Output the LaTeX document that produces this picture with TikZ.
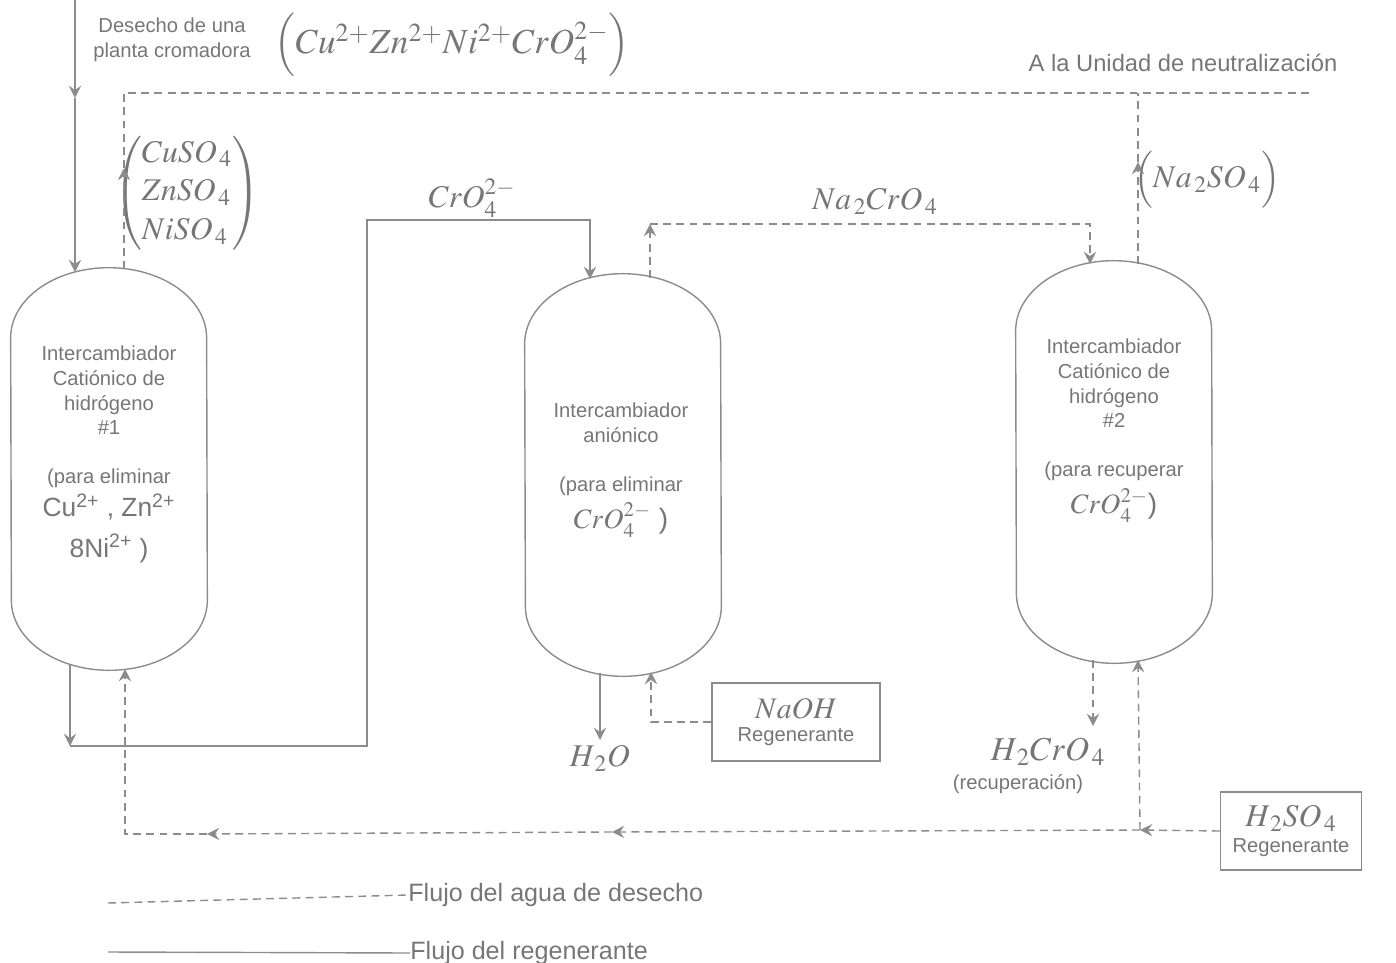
\documentclass[tikz,border=0pt]{standalone}
\usepackage{mathptmx}
\usepackage{fontspec}
\setmainfont{Liberation Sans}
\usetikzlibrary{arrows.meta,positioning,calc}
\definecolor{pipe}{HTML}{8C8C8C}
\definecolor{ink}{HTML}{767676}

\begin{document}
\begin{tikzpicture}[x=0.02cm, y=0.02cm,
      vessel/.style={minimum width=3.92cm, minimum height=5.24cm, inner sep=0pt},
      vtext/.style={font=\fontsize{11.5}{14}\selectfont, text=ink, align=center, anchor=north, inner sep=0pt},
      chem/.style={font=\fontsize{18}{22}\selectfont, text=ink, inner sep=0pt},
      small/.style={font=\fontsize{11.5}{14}\selectfont, text=ink, inner sep=0pt},
      regbox/.style={draw=pipe, line width=0.8pt, align=center, text=ink, minimum height=1.56cm, inner sep=2pt},
      solidflow/.style={draw=pipe, line width=0.8pt},
      wasteflow/.style={draw=pipe, line width=0.8pt, dash pattern=on 4.5pt off 3pt},
      tip/.style={-{Stealth[length=7pt,width=7pt,inset=2.5pt]}}
    ]
      \useasboundingbox (0,0) rectangle (1396,-963);

      % columnas de intercambio
      \node[vessel] (v1) at (109,-469) {};
      \node[vessel] (v2) at (623,-475) {};
      \node[vessel] (v3) at (1114,-462) {};
      \foreach \v in {v1,v2,v3}
        \draw[solidflow] (\v.north west)
          arc[start angle=180, end angle=0, x radius=1.96cm, y radius=1.4cm]
          -- (\v.south east)
          arc[start angle=0, end angle=-180, x radius=1.96cm, y radius=1.4cm] -- cycle;

      \node[vtext] (t1) at (109,-346) {Intercambiador\\Catiónico de\\hidrógeno\\\#1\\[14pt]
        (para eliminar\\[2pt]
        {\fontsize{15}{18}\selectfont Cu\textsuperscript{2+} , Zn\textsuperscript{2+}}\\[7pt]
        {\fontsize{15}{18}\selectfont 8Ni\textsuperscript{2+} )}};
      \node[vtext] (t2) at (621,-403) {Intercambiador\\aniónico\\[14pt]
        (para eliminar\\[3pt]
        {\fontsize{16}{18}\selectfont $CrO_4^{2-}$ )}};
      \node[vtext] (t3) at (1114,-339) {Intercambiador\\Catiónico de\\hidrógeno\\\#2\\[14pt]
        (para recuperar\\[3pt]
        {\fontsize{16}{18}\selectfont $CrO_4^{2-}$)}};

      % textos
      \node[small, align=center] (feed) at (172,-40) {Desecho de una\\planta cromadora};
      \node[chem, font=\fontsize{20}{24}\selectfont] (ions) at (452,-45)
        {$\left(Cu^{2+}Zn^{2+}Ni^{2+}CrO_4^{2-}\vphantom{\rule[-9pt]{0pt}{23pt}}\right)$};
      \node[chem] (sulf) at (187,-193)
        {$\left(\begin{array}{@{}l@{}}CuSO_{\,4}\\ ZnSO_{\,4}\\ NiSO_{\,4}\end{array}\right)$};
      \node[chem] (cro) at (472,-198) {$CrO_4^{2-}$};
      \node[chem] (nacro) at (875,-201) {$Na_{\,2}CrO_{\,4}$};
      \node[chem] (naso) at (1207,-180)
        {$\left(Na_{\,2}SO_{\,4}\vphantom{\rule[-10pt]{0pt}{26pt}}\right)$};
      \node[small, font=\fontsize{13.5}{16}\selectfont] (neutral) at (1183,-63) {A la Unidad de neutralización};
      \node[chem] (water) at (600,-758) {$H_{\,2}O$};
      \node[chem, font=\fontsize{19}{22}\selectfont] (h2cro) at (1048,-752) {$H_{\,2}CrO_{\,4}$};
      \node[small] (recup) at (1018,-784) {(recuperación)};

      \node[regbox, minimum width=3.36cm] (naoh) at (796,-722)
        {{\fontsize{17}{20}\selectfont $NaOH$}\\[1pt]{\fontsize{11.5}{14}\selectfont Regenerante}};
      \node[regbox, minimum width=2.82cm] (acid) at (1291,-831)
        {{\fontsize{18}{20}\selectfont $H_{\,2}SO_{\,4}$}\\[3pt]{\fontsize{11.5}{14}\selectfont Regenerante}};

      % puntos de conexion
      \coordinate (top1) at (75,0);
      \coordinate (a1) at (75,-98);
      \coordinate (v1in) at (75,-272);
      \coordinate (v1up) at (124,-269);
      \coordinate (a2) at (124,-168);
      \coordinate (n1) at (124,-93);
      \coordinate (n2) at (1313,-93);
      \coordinate (v3up) at (1138,-264);
      \coordinate (a3) at (1138,-162);
      \coordinate (n3) at (1138,-93);
      \coordinate (v1out) at (70,-664);
      \coordinate (b1) at (70,-746);
      \coordinate (b2) at (367,-220);
      \coordinate (v2in) at (590,-279);
      \coordinate (v2out) at (600,-673);
      \coordinate (w1) at (600,-740);
      \coordinate (v2up) at (650,-278);
      \coordinate (c2) at (650,-224);
      \coordinate (v3in) at (1090,-264);
      \coordinate (v2back) at (651,-672);
      \coordinate (v3out) at (1093,-660);
      \coordinate (r1) at (1093,-726);
      \coordinate (v3back) at (1138,-660);
      \coordinate (j1) at (1140,-830);
      \coordinate (m1) at (612,-832);
      \coordinate (m2) at (207,-834);
      \coordinate (v1back) at (125,-669);

      % flujo del regenerante (continuo)
      \draw[solidflow, tip] (top1) -- (a1);
      \draw[solidflow, tip] (a1) -- (v1in);
      \draw[solidflow, tip] (v1out) -- (b1);
      \draw[solidflow, tip] (b1) -| (b2) -| (v2in);
      \draw[solidflow, tip] (v2out) -- (w1);

      % flujo del agua de desecho (discontinuo)
      \draw[wasteflow, tip] (v1up) -- (a2);
      \draw[wasteflow] (a2) -- (n1) -- (n2);
      \draw[wasteflow, tip] (v3up) -- (a3);
      \draw[wasteflow] (a3) -- (n3);
      \draw[wasteflow, tip] (v2up) -- (c2);
      \draw[wasteflow, tip] (c2) -| (v3in);
      \draw[wasteflow, tip] (naoh.west) -| (v2back);
      \draw[wasteflow, tip] (v3out) -- (r1);
      \draw[wasteflow, tip] (acid.west) -- (j1);
      \draw[wasteflow, tip] (j1) -- (v3back);
      \draw[wasteflow, tip] (j1) -- (m1);
      \draw[wasteflow, tip] (m1) -- (m2);
      \draw[wasteflow, tip] (m2) -| (v1back);

      % leyenda
      \node[small, font=\fontsize{14.3}{17}\selectfont, anchor=west] (leg1) at (408,-895) {Flujo del agua de desecho};
      \node[small, font=\fontsize{14.3}{17}\selectfont, anchor=west] (leg2) at (410,-953) {Flujo del regenerante};
      \coordinate (l1) at (108,-903);
      \coordinate (l2) at (108,-952);
      \draw[wasteflow] (l1) -- (leg1.west);
      \draw[solidflow] (l2) -- (leg2.west);
    \end{tikzpicture}
\end{document}
